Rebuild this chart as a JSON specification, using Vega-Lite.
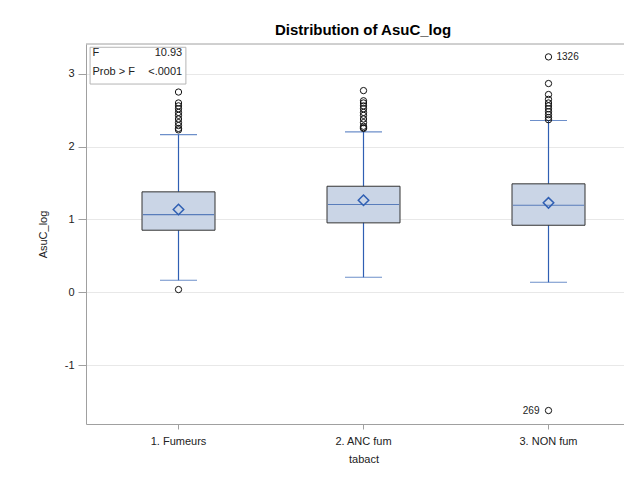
{
  "$schema": "https://vega.github.io/schema/vega-lite/v6.json",
  "autosize": "none",
  "width": 538,
  "height": 380,
  "padding": {"left": 86, "top": 44, "right": 0, "bottom": 54},
  "background": "white",
  "title": {
    "text": "Distribution of AsuC_log",
    "font": "Liberation Sans",
    "fontSize": 15,
    "fontWeight": "bold",
    "color": "#000000",
    "anchor": "middle",
    "dx": 8,
    "offset": 6
  },
  "config": {
    "view": {"stroke": "transparent", "strokeWidth": 0},
    "axis": {
      "labelFont": "Liberation Sans",
      "titleFont": "Liberation Sans",
      "labelFontSize": 11,
      "titleFontSize": 11,
      "titleFontWeight": "normal",
      "labelColor": "#222222",
      "titleColor": "#222222",
      "tickColor": "#a0a0a0",
      "domain": true,
      "domainColor": "#a0a0a0"
    }
  },
  "datasets": {
    "boxes": [
      {"tabact": "1. Fumeurs", "lo": 0.165, "q1": 0.852, "med": 1.067, "mean": 1.136, "q3": 1.379, "hi": 2.166},
      {"tabact": "2. ANC fum", "lo": 0.206, "q1": 0.953, "med": 1.205, "mean": 1.264, "q3": 1.456, "hi": 2.203},
      {"tabact": "3. NON fum", "lo": 0.137, "q1": 0.920, "med": 1.195, "mean": 1.228, "q3": 1.489, "hi": 2.359}
    ],
    "outliers": [
      {"tabact": "1. Fumeurs", "AsuC_log": 2.75, "obs": ""},
      {"tabact": "1. Fumeurs", "AsuC_log": 2.60, "obs": ""},
      {"tabact": "1. Fumeurs", "AsuC_log": 2.56, "obs": ""},
      {"tabact": "1. Fumeurs", "AsuC_log": 2.52, "obs": ""},
      {"tabact": "1. Fumeurs", "AsuC_log": 2.47, "obs": ""},
      {"tabact": "1. Fumeurs", "AsuC_log": 2.43, "obs": ""},
      {"tabact": "1. Fumeurs", "AsuC_log": 2.38, "obs": ""},
      {"tabact": "1. Fumeurs", "AsuC_log": 2.33, "obs": ""},
      {"tabact": "1. Fumeurs", "AsuC_log": 2.29, "obs": ""},
      {"tabact": "1. Fumeurs", "AsuC_log": 2.25, "obs": ""},
      {"tabact": "1. Fumeurs", "AsuC_log": 2.23, "obs": ""},
      {"tabact": "1. Fumeurs", "AsuC_log": 0.037, "obs": ""},
      {"tabact": "2. ANC fum", "AsuC_log": 2.77, "obs": ""},
      {"tabact": "2. ANC fum", "AsuC_log": 2.63, "obs": ""},
      {"tabact": "2. ANC fum", "AsuC_log": 2.60, "obs": ""},
      {"tabact": "2. ANC fum", "AsuC_log": 2.56, "obs": ""},
      {"tabact": "2. ANC fum", "AsuC_log": 2.52, "obs": ""},
      {"tabact": "2. ANC fum", "AsuC_log": 2.47, "obs": ""},
      {"tabact": "2. ANC fum", "AsuC_log": 2.43, "obs": ""},
      {"tabact": "2. ANC fum", "AsuC_log": 2.38, "obs": ""},
      {"tabact": "2. ANC fum", "AsuC_log": 2.33, "obs": ""},
      {"tabact": "2. ANC fum", "AsuC_log": 2.28, "obs": ""},
      {"tabact": "2. ANC fum", "AsuC_log": 2.26, "obs": ""},
      {"tabact": "2. ANC fum", "AsuC_log": 2.25, "obs": ""},
      {"tabact": "3. NON fum", "AsuC_log": 3.233, "obs": "1326"},
      {"tabact": "3. NON fum", "AsuC_log": 2.867, "obs": ""},
      {"tabact": "3. NON fum", "AsuC_log": 2.716, "obs": ""},
      {"tabact": "3. NON fum", "AsuC_log": 2.65, "obs": ""},
      {"tabact": "3. NON fum", "AsuC_log": 2.60, "obs": ""},
      {"tabact": "3. NON fum", "AsuC_log": 2.56, "obs": ""},
      {"tabact": "3. NON fum", "AsuC_log": 2.52, "obs": ""},
      {"tabact": "3. NON fum", "AsuC_log": 2.48, "obs": ""},
      {"tabact": "3. NON fum", "AsuC_log": 2.44, "obs": ""},
      {"tabact": "3. NON fum", "AsuC_log": 2.40, "obs": ""},
      {"tabact": "3. NON fum", "AsuC_log": 2.37, "obs": ""},
      {"tabact": "3. NON fum", "AsuC_log": -1.625, "obs": "269"}
    ],
    "anova": [
      {"stat": "F", "val": "10.93", "row": 3.293},
      {"stat": "Prob > F", "val": "<.0001", "row": 3.02}
    ]
  },
  "layer": [
    {
      "data": {"name": "boxes"},
      "mark": {"type": "rule", "color": "#2f5fb3", "strokeWidth": 1.2},
      "encoding": {
        "x": {
          "field": "tabact", "type": "nominal",
          "scale": {"type": "band", "domain": ["1. Fumeurs", "2. ANC fum", "3. NON fum"], "range": [0, 555], "paddingInner": 0, "paddingOuter": 0},
          "axis": {"title": "tabact", "labelAngle": 0, "tickSize": 5, "labelPadding": 6, "titlePadding": 7, "grid": false}
        },
        "y": {
          "field": "lo", "type": "quantitative",
          "scale": {"domain": [-1.81, 3.41], "nice": false, "zero": false},
          "axis": {"title": "AsuC_log", "values": [-1, 0, 1, 2, 3], "labelExpr": "'' + datum.value", "tickSize": 8, "labelPadding": 4, "titlePadding": 16, "grid": true, "gridColor": "#e8e8e8"}
        },
        "y2": {"field": "hi"}
      }
    },
    {
      "data": {"values": [{"edge": 3.41}]},
      "mark": {"type": "rule", "color": "#a0a0a0", "strokeWidth": 1},
      "encoding": {
        "y": {"field": "edge", "type": "quantitative"}
      }
    },
    {
      "data": {"name": "boxes"},
      "mark": {"type": "bar", "size": 73, "fill": "#cad5e6", "stroke": "#333333", "strokeWidth": 1},
      "encoding": {
        "x": {"field": "tabact", "type": "nominal"},
        "y": {"field": "q1", "type": "quantitative"},
        "y2": {"field": "q3"}
      }
    },
    {
      "data": {"name": "boxes"},
      "mark": {"type": "tick", "size": 71, "thickness": 1.2, "color": "#2a57a8"},
      "encoding": {
        "x": {"field": "tabact", "type": "nominal"},
        "y": {"field": "med", "type": "quantitative"}
      }
    },
    {
      "data": {"name": "boxes"},
      "mark": {"type": "tick", "size": 37, "thickness": 1.2, "color": "#2f5fb3"},
      "encoding": {
        "x": {"field": "tabact", "type": "nominal"},
        "y": {"field": "hi", "type": "quantitative"}
      }
    },
    {
      "data": {"name": "boxes"},
      "mark": {"type": "tick", "size": 37, "thickness": 1.2, "color": "#2f5fb3"},
      "encoding": {
        "x": {"field": "tabact", "type": "nominal"},
        "y": {"field": "lo", "type": "quantitative"}
      }
    },
    {
      "data": {"name": "boxes"},
      "mark": {"type": "point", "shape": "diamond", "size": 110, "filled": false, "stroke": "#2f5fb3", "strokeWidth": 1.5, "opacity": 1},
      "encoding": {
        "x": {"field": "tabact", "type": "nominal"},
        "y": {"field": "mean", "type": "quantitative"}
      }
    },
    {
      "data": {"name": "outliers"},
      "mark": {"type": "point", "shape": "circle", "size": 40, "filled": false, "stroke": "#111111", "strokeWidth": 1, "opacity": 1},
      "encoding": {
        "x": {"field": "tabact", "type": "nominal"},
        "y": {"field": "AsuC_log", "type": "quantitative"}
      }
    },
    {
      "data": {"name": "outliers"},
      "transform": [{"filter": "datum.obs === '1326'"}],
      "mark": {"type": "text", "align": "left", "baseline": "middle", "dx": 8, "font": "Liberation Sans", "fontSize": 10, "color": "#222222"},
      "encoding": {
        "x": {"field": "tabact", "type": "nominal"},
        "y": {"field": "AsuC_log", "type": "quantitative"},
        "text": {"field": "obs"}
      }
    },
    {
      "data": {"name": "outliers"},
      "transform": [{"filter": "datum.obs === '269'"}],
      "mark": {"type": "text", "align": "right", "baseline": "middle", "dx": -9, "font": "Liberation Sans", "fontSize": 10, "color": "#222222"},
      "encoding": {
        "x": {"field": "tabact", "type": "nominal"},
        "y": {"field": "AsuC_log", "type": "quantitative"},
        "text": {"field": "obs"}
      }
    },
    {
      "data": {"values": [{"top": 3.365, "bottom": 2.86}]},
      "mark": {"type": "rect", "fill": "white", "stroke": "#b5b5b5", "strokeWidth": 1},
      "encoding": {
        "x": {"datum": "1. Fumeurs", "type": "nominal", "bandPosition": 0.022},
        "x2": {"datum": "1. Fumeurs", "bandPosition": 0.54},
        "y": {"field": "top", "type": "quantitative"},
        "y2": {"field": "bottom"}
      }
    },
    {
      "data": {"name": "anova"},
      "mark": {"type": "text", "align": "left", "baseline": "middle", "font": "Liberation Sans", "fontSize": 11, "color": "#222222"},
      "encoding": {
        "x": {"datum": "1. Fumeurs", "type": "nominal", "bandPosition": 0.035},
        "y": {"field": "row", "type": "quantitative"},
        "text": {"field": "stat"}
      }
    },
    {
      "data": {"name": "anova"},
      "mark": {"type": "text", "align": "right", "baseline": "middle", "font": "Liberation Sans", "fontSize": 11, "color": "#222222"},
      "encoding": {
        "x": {"datum": "1. Fumeurs", "type": "nominal", "bandPosition": 0.52},
        "y": {"field": "row", "type": "quantitative"},
        "text": {"field": "val"}
      }
    }
  ]
}
